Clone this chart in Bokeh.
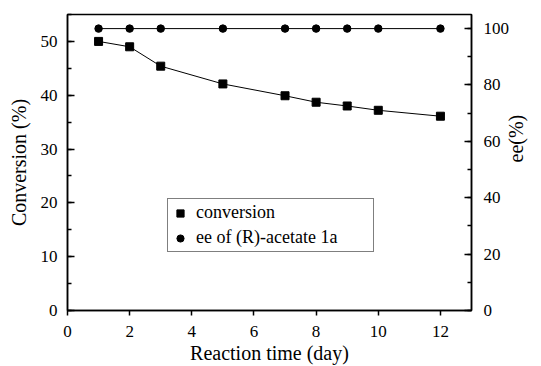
import math
from bokeh.plotting import figure
from bokeh.models import LinearAxis, Range1d, SingleIntervalTicker, Legend, LegendItem
from bokeh.embed import file_html
from bokeh.resources import INLINE

# data
days = [1, 2, 3, 5, 7, 8, 9, 10, 12]
conversion = [50.0, 49.0, 45.4, 42.1, 39.9, 38.7, 38.0, 37.2, 36.1]
ee = [100, 100, 100, 100, 100, 100, 100, 100, 100]
conv_label = "conversion"
ee_label = "ee of (R)-acetate 1a"
x_title = "Reaction time (day)"
y_title = "Conversion (%)"
y2_title = "ee(%)"

FONT = "Liberation Serif"

p = figure(width=541, height=366, x_range=Range1d(0, 13), y_range=Range1d(0, 55),
           output_backend="svg", toolbar_location=None,
           min_border_left=67, min_border_right=70, min_border_top=14, min_border_bottom=56)
p.extra_y_ranges = {"ee": Range1d(0, 105)}
p.xgrid.visible = False
p.ygrid.visible = False
p.outline_line_color = "black"
p.outline_line_width = 1.5
p.background_fill_color = "white"
p.border_fill_color = "white"

# conversion series
p.line(days, conversion, line_color="black", line_width=1)
sq = p.scatter(days, conversion, marker="square", size=8, fill_color="black", line_color="black")

# ee series on the right axis
p.line(days, ee, line_color="black", line_width=1, y_range_name="ee")
ci = p.scatter(days, ee, marker="circle", size=7.5, fill_color="black", line_color="black",
               y_range_name="ee")

# x axis
xa = p.xaxis[0]
xa.ticker = SingleIntervalTicker(interval=2, num_minor_ticks=0)
xa.axis_label = x_title
xa.major_tick_in = 0
xa.major_tick_out = 5
xa.minor_tick_line_color = None
xa.major_label_standoff = 10
xa.axis_label_standoff = 2

# left y axis
ya = p.yaxis[0]
ya.ticker = SingleIntervalTicker(interval=10, num_minor_ticks=2)
ya.axis_label = y_title
ya.major_tick_in = 7
ya.major_tick_out = 0
ya.minor_tick_in = 4
ya.minor_tick_out = 0
ya.major_label_standoff = 10
ya.axis_label_standoff = 8

# right y axis
ra = LinearAxis(y_range_name="ee", axis_label=y2_title,
                ticker=SingleIntervalTicker(interval=20, num_minor_ticks=2))
ra.major_tick_in = 7
ra.major_tick_out = 0
ra.minor_tick_in = 4
ra.minor_tick_out = 0
ra.major_label_standoff = 12
ra.axis_label_standoff = 4
ra.axis_label_orientation = math.pi / 2
p.add_layout(ra, "right")

for ax in [xa, ya, ra]:
    ax.axis_line_color = "black"
    ax.axis_line_width = 1.5
    ax.major_tick_line_color = "black"
    ax.major_tick_line_width = 1.5
    ax.minor_tick_line_width = 1.5
    ax.major_label_text_font = FONT
    ax.major_label_text_font_size = "17px"
    ax.major_label_text_color = "black"
    ax.axis_label_text_font = FONT
    ax.axis_label_text_font_size = "20px"
    ax.axis_label_text_font_style = "normal"
    ax.axis_label_text_color = "black"

legend = Legend(items=[LegendItem(label=conv_label, renderers=[sq]),
                       LegendItem(label=ee_label, renderers=[ci])],
                location=(100, 58), margin=0, padding=3, spacing=4,
                glyph_width=18, glyph_height=20, label_height=20, label_width=174,
                label_standoff=7,
                label_text_font=FONT, label_text_font_size="18px", label_text_color="black",
                border_line_color="black", border_line_width=1.2,
                background_fill_color="white", background_fill_alpha=1)
p.add_layout(legend, "center")

open("out.html", "w").write(file_html(p, INLINE))
